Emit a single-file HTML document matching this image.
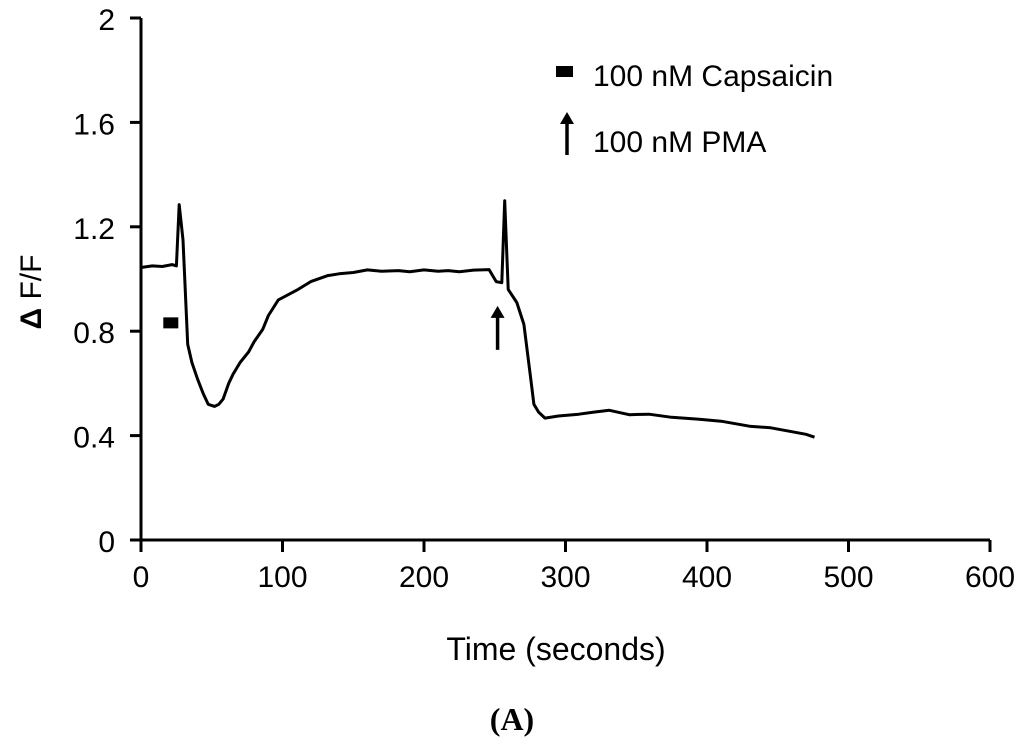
<!DOCTYPE html>
<html><head><meta charset="utf-8"><style>
html,body{margin:0;padding:0;background:#fff;}
svg{display:block;font-family:"Liberation Sans",sans-serif;}
</style></head><body>
<svg id="chart" width="1024" height="756" viewBox="0 0 1024 756">
<g id="axes"></g>
<g id="trace"></g>
<g id="annot"></g>
</svg>
<script>
const xTicks=[0,100,200,300,400,500,600];
const yTicks=[0,0.4,0.8,1.2,1.6,2];
const yTickLabels=["0","0.4","0.8","1.2","1.6","2"];
const times=[0,8,15,22,25,27,29.7,33,36,40,44,47.5,52,55,58,62,65,70,76,80,86,90,97,104,111,120,132,140,150,160,170,182,190,200,210,217,225,235,246,251,255,257,259.5,265.6,270.6,275.5,277.7,281,285.5,295,309.5,320,331,345,359,375,394.5,410,430,445,458,470,476];
const values=[1.044,1.05,1.048,1.055,1.05,1.285,1.15,0.75,0.68,0.616,0.56,0.52,0.512,0.52,0.54,0.6,0.635,0.68,0.72,0.76,0.807,0.86,0.92,0.94,0.96,0.99,1.013,1.02,1.025,1.035,1.03,1.032,1.028,1.035,1.03,1.032,1.028,1.034,1.036,0.99,0.986,1.30,0.96,0.91,0.826,0.616,0.52,0.49,0.467,0.475,0.482,0.49,0.497,0.48,0.482,0.47,0.463,0.455,0.436,0.43,0.417,0.405,0.394];
const capsaicinTime=20, capsaicinValue=0.83;
const pmaTime=252, pmaValue=0.74;

const X0=141,X1=990,Y0=540,Y1=18;
const xs=t=>X0+(t/600)*(X1-X0);
const ys=v=>Y0-(v/2)*(Y0-Y1);
const NS="http://www.w3.org/2000/svg";
function mk(tag,attrs,parent){const e=document.createElementNS(NS,tag);for(const k in attrs)e.setAttribute(k,attrs[k]);parent.appendChild(e);return e;}
const axes=document.getElementById('axes');
let l=mk('line',{x1:X0,y1:Y1,x2:X0,y2:Y0+1,stroke:'#000','stroke-width':3},axes);


l=mk('line',{x1:X0-1,y1:Y0,x2:X1,y2:Y0,stroke:'#000','stroke-width':3},axes);


xTicks.forEach(t=>{
 const tk=mk('line',{x1:xs(t),y1:Y0,x2:xs(t),y2:Y0+12,stroke:'#000','stroke-width':3},axes);
 
 
 const tx=mk('text',{x:xs(t),y:Y0+47,'text-anchor':'middle','font-size':30},axes);
 tx.textContent=String(t);
 
 
});
yTicks.forEach((v,i)=>{
 const tk=mk('line',{x1:X0-11,y1:ys(v),x2:X0,y2:ys(v),stroke:'#000','stroke-width':3},axes);
 
 
 const tx=mk('text',{x:X0-26,y:ys(v)+12,'text-anchor':'end','font-size':30},axes);
 tx.textContent=yTickLabels[i];
 
 
});
let t=mk('text',{x:556,y:660,'text-anchor':'middle','font-size':32},axes);
t.textContent='Time (seconds)';


t=mk('text',{x:0,y:0,'text-anchor':'middle','font-size':30,transform:'translate(41,292) rotate(-90)'},axes);
t.innerHTML='<tspan font-weight="bold">Δ</tspan> F/F';


t=mk('text',{x:512,y:730,'text-anchor':'middle','font-size':32,'font-weight':'bold','font-family':'Liberation Serif, serif'},axes);
t.textContent='(A)';



const tr=document.getElementById('trace');
const p=mk('path',{d:times.map((tt,i)=>(i?'L':'M')+xs(tt).toFixed(1)+','+ys(values[i]).toFixed(1)).join(''),fill:'none',stroke:'#000','stroke-width':3,'stroke-linejoin':'round'},tr);



const an=document.getElementById('annot');
let r=mk('rect',{x:xs(capsaicinTime)-6,y:ys(capsaicinValue)-6,width:15,height:11,fill:'#000'},an);


function arrow(x,yb,ytop,name){
 const g=mk('g',{},an);
 
 
 mk('line',{x1:x,y1:yb,x2:x,y2:ytop+10,stroke:'#000','stroke-width':3.5},g);
 mk('polygon',{points:`${x-7},${ytop+12} ${x+7},${ytop+12} ${x},${ytop}`,fill:'#000'},g);
}
arrow(xs(pmaTime),ys(pmaValue)+3,ys(pmaValue)-41,'pma-marker');
r=mk('rect',{x:556,y:66,width:17,height:11,fill:'#000'},an);


t=mk('text',{x:593,y:86,'font-size':30},an);
t.textContent='100 nM Capsaicin';


arrow(567,155,112,'legend-pma-symbol');
t=mk('text',{x:593,y:152,'font-size':30},an);
t.textContent='100 nM PMA';


</script>
</body></html>
